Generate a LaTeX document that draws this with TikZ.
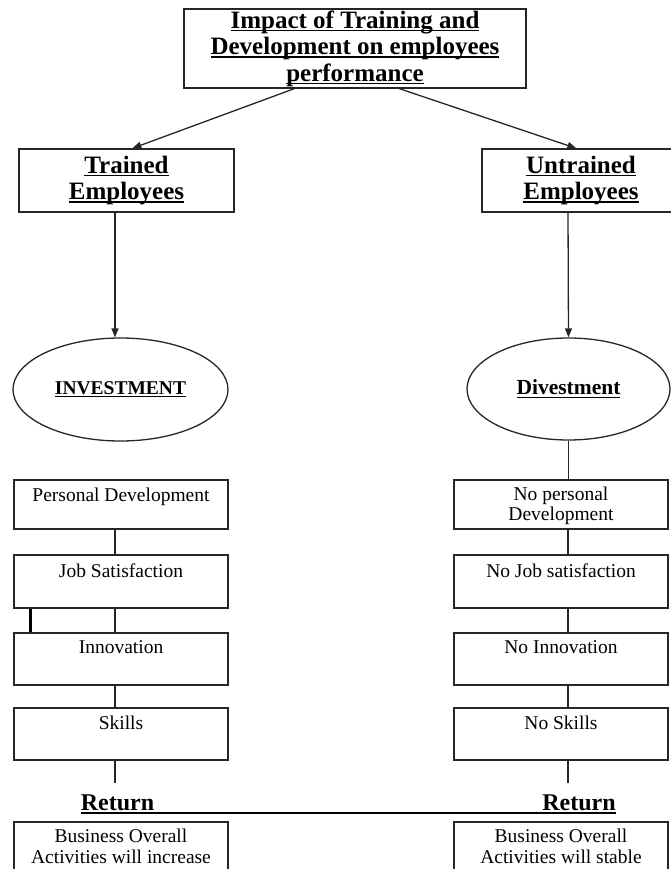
\documentclass[tikz,border=0pt]{standalone}
\usepackage{fontspec}
\setmainfont{Liberation Serif}
\usetikzlibrary{arrows.meta,shapes.geometric}
\newcommand{\myul}[1]{\setbox0\hbox{#1}\leavevmode\rlap{\rule[-3pt]{\wd0}{1.4pt}}\box0}
\begin{document}
\begin{tikzpicture}[x=1pt,y=-1pt,
  conn/.style={draw=black!85, line width=1.3pt},
  arr/.style={conn, -{Triangle[length=9pt,width=7pt]}},
  box/.style={conn, rectangle, inner sep=0pt},
  head/.style={font=\fontsize{25}{26.5}\selectfont\bfseries, align=center},
  lbox/.style={box, minimum width=214pt},
  txt/.style={inner sep=0pt, align=center, font=\fontsize{19.5}{20.5}\selectfont},
  ret/.style={inner sep=0pt, font=\fontsize{24}{26}\selectfont\bfseries},
  ell/.style={conn, ellipse, inner sep=0pt}]
\useasboundingbox (0,0) rectangle (671,869);
\clip (0,0) rectangle (671,869);

% top
\node[box, head, minimum width=342pt, minimum height=79pt] (top) at (355,48.5)
  {\myul{Impact of Training and}\\\myul{Development on employees}\\\myul{performance}};
\node[box, head, minimum width=215pt, minimum height=63pt] (trained) at (126.5,180.5)
  {\myul{Trained}\\\myul{Employees}};
\node[box, head, minimum width=198pt, minimum height=63pt] (untrained) at (581,180.5)
  {\myul{Untrained}\\\myul{Employees}};

\draw[arr] ([xshift=111pt]top.south west) -- ([xshift=114pt]trained.north west);
\draw[arr] ([xshift=216pt]top.south west) -- ([xshift=95pt]untrained.north west);

% ellipses
\node[ell, minimum width=215pt, minimum height=103pt,
  font=\fontsize{19.5}{20}\selectfont\bfseries] (inv) at (120.5,389.5) {\myul{INVESTMENT}};
\node[ell, minimum width=203pt, minimum height=102pt,
  font=\fontsize{21.5}{22}\selectfont\bfseries] (div) at (568.5,389) {\myul{Divestment}};

\draw[arr] ([xshift=-11.5pt]trained.south) -- ([xshift=-5.5pt]inv.north);
\draw[arr] ([xshift=-13pt]untrained.south) -- (div.north);

% left column
\node[lbox, minimum height=49pt] (pd) at (121,504.5) {};
\node[lbox, minimum height=53pt] (js) at (121,581.5) {};
\node[lbox, minimum height=52pt] (inn) at (121,659) {};
\node[lbox, minimum height=52pt] (sk) at (121,734) {};
\node[lbox, minimum height=60pt] (biz) at (121,852) {};

\node[txt, anchor=north] (pdT) at ([yshift=-8.5pt]pd.north) {Personal Development};
\node[txt, anchor=north] (jsT) at ([yshift=-9.5pt]js.north) {Job Satisfaction};
\node[txt, anchor=north] (innT) at ([yshift=-8pt]inn.north) {Innovation};
\node[txt, anchor=north] (skT) at ([yshift=-8.5pt]sk.north) {Skills};
\node[txt, anchor=north] (bizT) at ([yshift=-7.5pt]biz.north) {Business Overall\\Activities will increase};

\draw[conn] ([xshift=-6pt]pd.south) -- ([xshift=-6pt]js.north);
\draw[conn] ([xshift=-6pt]js.south) -- ([xshift=-6pt]inn.north);
\draw[conn] ([xshift=-6pt]inn.south) -- ([xshift=-6pt]sk.north);
\coordinate (skEnd) at (115,783);
\draw[conn] ([xshift=-6pt]sk.south) -- (skEnd);
\draw[line width=2.6pt, black] ([xshift=17pt]js.south west) -- ([xshift=17pt]inn.north west);

% right column
\node[lbox, minimum height=49pt] (npd) at (561,504.5) {};
\node[lbox, minimum height=53pt] (njs) at (561,581.5) {};
\node[lbox, minimum height=52pt] (ninn) at (561,659) {};
\node[lbox, minimum height=52pt] (nsk) at (561,734) {};
\node[lbox, minimum height=60pt] (nbiz) at (561,852) {};

\node[txt, anchor=north] (npdT) at ([yshift=-7pt]npd.north) {No personal\\Development};
\node[txt, anchor=north] (njsT) at ([yshift=-9.5pt]njs.north) {No Job satisfaction};
\node[txt, anchor=north] (ninnT) at ([yshift=-8pt]ninn.north) {No Innovation};
\node[txt, anchor=north] (nskT) at ([yshift=-8.5pt]nsk.north) {No Skills};
\node[txt, anchor=north] (nbizT) at ([yshift=-7.5pt]nbiz.north) {Business Overall\\Activities will stable};

\draw[conn] (div.south) -- (npd.north -| div.south);
\draw[conn] ([xshift=7pt]npd.south) -- ([xshift=7pt]njs.north);
\draw[conn] ([xshift=7pt]njs.south) -- ([xshift=7pt]ninn.north);
\draw[conn] ([xshift=7pt]ninn.south) -- ([xshift=7pt]nsk.north);
\coordinate (nskEnd) at (568,783);
\draw[conn] ([xshift=7pt]nsk.south) -- (nskEnd);

% returns
\node[ret, anchor=base] (retL) at (117.5,810) {Return};
\node[ret, anchor=base] (retR) at (579,810) {Return};
\draw[line width=1.4pt, black] ([yshift=-3pt]retL.base west) -- ([yshift=-3pt]retR.base east);
\end{tikzpicture}
\end{document}
